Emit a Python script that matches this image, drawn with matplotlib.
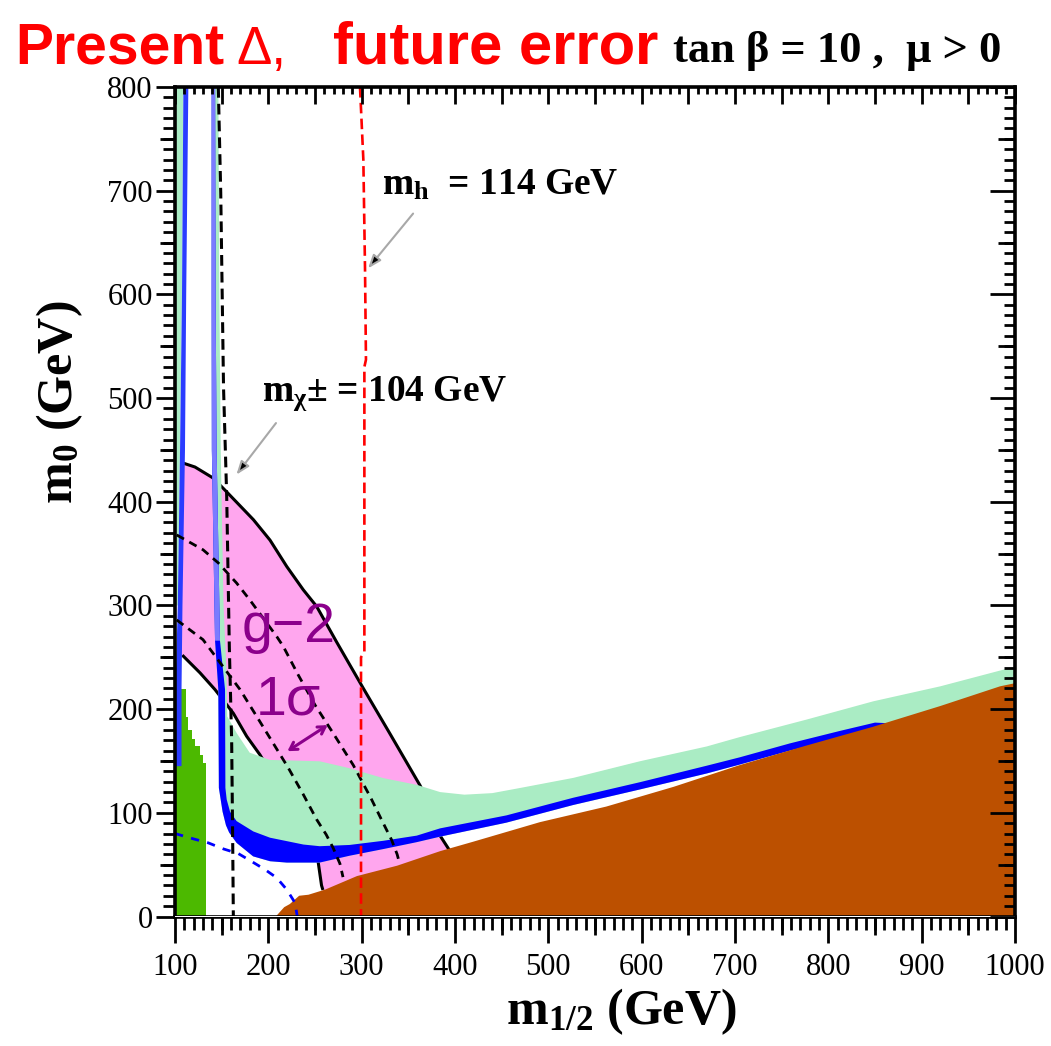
import numpy as np
import matplotlib
matplotlib.use("Agg")
import matplotlib.pyplot as plt
from matplotlib.ticker import MultipleLocator, FixedLocator, NullFormatter

plt.rcParams['font.family'] = ['Liberation Serif', 'DejaVu Serif']
plt.rcParams['mathtext.fontset'] = 'custom'
plt.rcParams['mathtext.rm'] = 'Liberation Serif:bold'
plt.rcParams['mathtext.it'] = 'Liberation Serif:bold'
plt.rcParams['mathtext.bf'] = 'Liberation Serif:bold'

# ---------------- data (GeV) ----------------
x_ticks = [100, 200, 300, 400, 500, 600, 700, 800, 900, 1000]
y_ticks = [0, 100, 200, 300, 400, 500, 600, 700, 800]
x_mid_ticks = [150, 250, 350, 450, 550, 650, 750, 850, 950]
y_mid_ticks = [50, 150, 250, 350, 450, 550, 650, 750]

# charged-LSP excluded region (brown), upper boundary
stau_x = [208, 217, 223, 233, 243, 261, 295, 338, 384, 419, 491, 562, 634, 705, 777, 848, 920, 984, 1000]
stau_y = [0, 9, 12, 20, 21, 26, 39, 49, 63, 72, 91, 106, 125, 146, 165, 183, 203, 222, 225]

# b -> s gamma excluded region (green), stepped top
bsg_x = [100, 100, 111.8, 111.8, 114.3, 114.3, 117.9, 117.9, 121.5, 121.5, 126.8, 126.8, 130.4, 130.4, 133.2, 133.2]
bsg_y = [0, 219, 219, 192, 192, 180, 180, 171, 171, 164, 164, 156, 156, 148, 148, 0]

# g-2 band (pink): upper and lower solid boundaries
gm2_hi_x = [109.7, 121.4, 141, 157, 184, 201.8, 219.7, 237.5, 251.8, 273, 301.8, 330.5, 362.8, 375, 384, 394]
gm2_hi_y = [437, 433.5, 422.8, 408, 382.7, 363, 337.6, 315, 299, 265, 220, 176, 126, 100, 78, 64]
gm2_lo_x = [109, 126.8, 142.9, 162.5, 176.8, 191, 210, 230, 245, 253, 257, 258]
gm2_lo_y = [251, 235, 218.8, 196, 173.8, 156, 128, 100, 75, 55, 30, 27]

# g-2 dashed contours
gm2_da_x = [101.8, 130, 146.4, 166, 180, 209, 216, 232, 250, 270, 291, 310, 322, 332, 338, 341]
gm2_da_y = [368, 353.7, 341, 321.6, 305.5, 270, 260.5, 233, 204, 176, 146, 114, 92, 74, 60, 50]
gm2_db_x = [101.8, 130, 169.6, 187.5, 205, 221.4, 237.5, 251.8, 262, 269.5, 276.7, 280]
gm2_db_y = [286, 267, 219, 193, 167.4, 143.3, 117.6, 93.5, 79, 66, 51, 38]

# cosmological region (light green): upper boundary
cdm_top_x = [146.5, 147.5, 149, 152, 155, 156, 166, 180, 201.8, 255, 287, 323, 359, 384, 410, 440, 470,
             526.8, 598, 669.7, 705, 777, 848, 920, 1000]
cdm_top_y = [800, 600, 450, 300, 240, 193, 177, 158, 151, 149.7, 143, 133.5, 127, 120, 117.5, 119, 124,
             133.7, 149.7, 164, 173, 190, 207.5, 222, 241]
cdm_left_x = [100, 109, 107.5, 105.4, 103, 100]
cdm_left_y = [800, 800, 600, 450, 300, 300]

# WMAP strip (blue): lower/outer and upper/inner edges
wmap_lo_x = [139.3, 139.3, 139.5, 142.9, 146.4, 147, 151, 154.6, 158, 166, 183.7, 201.8, 219.7, 255, 287,
             323, 359, 384, 455, 526.5, 598, 670, 705, 759, 812.5, 850, 862]
wmap_lo_y = [800, 600, 450, 266, 219, 124, 101, 88, 81, 71, 58, 53.3, 52, 52, 58.6,
             65, 71.7, 77, 90.5, 107.5, 122.5, 138, 146.5, 160, 172, 181, 184]
wmap_hi_x = [143, 143.5, 144.6, 148.2, 153.6, 154, 155.4, 159, 166, 184, 201.8, 237.6, 255, 287,
             323, 359, 384, 455, 526.5, 598, 670, 705, 759, 812.5, 850, 862]
wmap_hi_y = [800, 600, 450, 266, 219, 124, 112.8, 101, 92, 82, 76, 69.4, 67.8, 69,
             73, 78, 85, 97.5, 114.5, 129.5, 145.5, 153.5, 167, 179, 187, 186.5]
wmap_left_x = [109, 107.5, 105.4, 103, 100.5, 100.5, 107, 107, 108, 110.7, 112, 114.3]
wmap_left_y = [800, 600, 450, 300, 220, 145, 145, 220, 300, 450, 600, 800]

# chargino (black dashed), Higgs (red dashed), LEP selectron (blue dashed)
chi_x = [146.4, 149, 152, 155.4, 158.2, 160.7, 161.8, 162.5]
chi_y = [800, 698, 510, 405, 260, 170, 74, 0]
mh_x = [298.2, 301.8, 303.6, 304.6, 302.9, 302.9, 299.3, 299.3]
mh_y = [800, 730, 624, 537, 530, 255, 250, 0]
sel_x = [100, 119.6, 135.7, 151.8, 167.8, 180.4, 196.4, 209, 219.7, 228.6, 231]
sel_y = [80, 74.9, 71, 65.2, 60.7, 54, 45.3, 37.3, 26, 13.2, 0]

# ---------------- colours ----------------
C_PINK = '#FFA6EE'
C_MINT = '#AAECC4'
C_BLUE = '#0000FF'
C_LBLUE = '#7B7BFF'
C_BROWN = '#BC5000'
C_LIME = '#4CB900'
C_PURPLE = '#8B008B'

fig = plt.figure(figsize=(10.51, 10.46), dpi=100)
ax = fig.add_axes([175 / 1051, 129.5 / 1046, 840 / 1051, 829.5 / 1046])
ax.set_xlim(100, 1000)
ax.set_ylim(0, 800)

# pink g-2 region
px = [105] + gm2_hi_x + [394, 258] + gm2_lo_x[::-1] + [105]
py = [437] + gm2_hi_y + [40, 10] + gm2_lo_y[::-1] + [252]
ax.fill(px, py, color=C_PINK, lw=0, zorder=1.0)
ax.plot(gm2_hi_x, gm2_hi_y, color='black', lw=2.2, zorder=1.1)
ax.plot(gm2_lo_x, gm2_lo_y, color='black', lw=2.2, zorder=1.1)

# light green cosmological region
mx = cdm_top_x + [1000, 880] + wmap_lo_x[::-1]
my = cdm_top_y + [215, 186] + wmap_lo_y[::-1]
ax.fill(mx, my, color=C_MINT, lw=0, zorder=1.2)
ax.fill(cdm_left_x, cdm_left_y, color=C_MINT, lw=0, zorder=1.2)

# b->s gamma green
ax.fill(bsg_x, bsg_y, color=C_LIME, lw=0, zorder=1.3)

# blue WMAP strips
ax.fill(wmap_lo_x + wmap_hi_x[::-1], wmap_lo_y + wmap_hi_y[::-1], color=C_BLUE, lw=0, zorder=1.4)
ax.fill(wmap_lo_x[:4] + wmap_hi_x[:4][::-1], wmap_lo_y[:4] + wmap_hi_y[:4][::-1], color=C_LBLUE, lw=0, zorder=1.41)
ax.fill(wmap_left_x, wmap_left_y, color='#2A3CFF', lw=0, zorder=1.4)

# brown charged LSP
ax.fill(stau_x + [1000], stau_y + [0], color=C_BROWN, lw=0, zorder=1.5)

# dashed contours
ax.plot(gm2_da_x, gm2_da_y, color='black', lw=2.0, dashes=(3, 2.2), zorder=1.8)
ax.plot(gm2_db_x, gm2_db_y, color='black', lw=2.0, dashes=(3, 2.2), zorder=1.8)
ax.plot(chi_x, chi_y, color='black', lw=2.2, dashes=(3.5, 2), zorder=1.8)
ax.plot(mh_x, mh_y, color='red', lw=1.9, dashes=(4, 2), zorder=1.8)
ax.plot(sel_x, sel_y, color=C_BLUE, lw=2.0, dashes=(3, 3), zorder=1.8)

# annotations
ax.text(171, 265, 'g\u22122', color=C_PURPLE, fontsize=40, family='Liberation Sans', zorder=3)
ax.text(186, 195, '1\u03c3', color=C_PURPLE, fontsize=40, family='Liberation Sans', zorder=3)
ax.annotate('', xy=(218, 158), xytext=(266, 186),
            arrowprops=dict(arrowstyle='<->,head_length=0.5,head_width=0.3', color=C_PURPLE, lw=2.2),
            zorder=3)

ax.text(322, 696, r'$\mathrm{m_h}$  = 114 GeV', fontsize=27, fontweight='bold', zorder=3)
ax.annotate('', xy=(305, 623), xytext=(357, 680),
            arrowprops=dict(arrowstyle='-|>,head_length=0.8,head_width=0.3', fc='black', ec='#a8a8a8', lw=1.5),
            zorder=3)
ax.text(193, 498, r'$\mathrm{m_{\chi}}$' + '\u00b1 = 104 GeV', fontsize=27, fontweight='bold', zorder=3)
ax.annotate('', xy=(164, 424), xytext=(210, 478),
            arrowprops=dict(arrowstyle='-|>,head_length=0.8,head_width=0.3', fc='black', ec='#a8a8a8', lw=1.5),
            zorder=3)

# ---------------- axes / ticks ----------------
for s in ax.spines.values():
    s.set_linewidth(2.6)
    s.set_zorder(2.6)

ax.xaxis.set_major_locator(FixedLocator(x_ticks))
ax.xaxis.set_minor_locator(MultipleLocator(10))
ax.yaxis.set_major_locator(FixedLocator(y_ticks))
ax.yaxis.set_minor_locator(MultipleLocator(10))
ax.set_xticklabels([str(v) for v in x_ticks])
ax.set_yticklabels([str(v) for v in y_ticks])
ax.tick_params(axis='x', which='major', direction='out', length=19, width=2, labelsize=22, pad=7,
               top=False, bottom=True)
ax.tick_params(axis='x', which='minor', direction='out', length=9, width=2, top=False, bottom=True)
ax.tick_params(axis='y', which='major', direction='out', length=14, width=2, labelsize=22, pad=2,
               right=False, left=True)
ax.tick_params(axis='y', which='minor', direction='out', length=9, width=2, right=False, left=True)

def sec_x(loc, ticks, length, direction, minor=None, minor_len=0):
    s = ax.secondary_xaxis(loc)
    s.xaxis.set_major_locator(FixedLocator(ticks))
    s.xaxis.set_major_formatter(NullFormatter())
    if minor is not None:
        s.xaxis.set_minor_locator(MultipleLocator(minor))
        s.tick_params(which='minor', direction=direction, length=minor_len, width=2)
    s.tick_params(which='major', direction=direction, length=length, width=2)
    for sp in s.spines.values():
        sp.set_visible(False)
    s.set_zorder(5)
    return s

def sec_y(loc, ticks, length, direction, minor=None, minor_len=0):
    s = ax.secondary_yaxis(loc)
    s.yaxis.set_major_locator(FixedLocator(ticks))
    s.yaxis.set_major_formatter(NullFormatter())
    if minor is not None:
        s.yaxis.set_minor_locator(MultipleLocator(minor))
        s.tick_params(which='minor', direction=direction, length=minor_len, width=2)
    s.tick_params(which='major', direction=direction, length=length, width=2)
    for sp in s.spines.values():
        sp.set_visible(False)
    s.set_zorder(5)
    return s

sec_x('bottom', x_mid_ticks, 13, 'out')
sec_x('top', x_ticks + x_mid_ticks, 12, 'in', minor=10, minor_len=5)
sec_y('left', y_mid_ticks, 11, 'out')
sec_y('right', y_ticks, 18, 'in', minor=10, minor_len=8)
sec_y('right', y_mid_ticks, 12, 'in')

# axis labels
fig.text(621 / 1051, 1 - 1012 / 1046, r'$\mathrm{m_{1/2}}$ (GeV)', ha='center', va='center',
         fontsize=36, fontweight='bold')
fig.text(60 / 1051, 1 - 402 / 1046, r'$\mathrm{m_0}$ (GeV)', ha='center', va='center',
         fontsize=36, fontweight='bold', rotation=90)

# header
fig.text(15 / 1051, 1 - 64 / 1046, 'Present', color='red', fontsize=41, fontweight='bold',
         family='Liberation Sans', ha='left', va='baseline')
fig.text(236 / 1051, 1 - 64 / 1046, '\u0394,', color='red', fontsize=38,
         family='Liberation Sans', ha='left', va='baseline')
fig.text(333 / 1051, 1 - 64 / 1046, 'future error', color='red', fontsize=43, fontweight='bold',
         family='Liberation Sans', ha='left', va='baseline')
fig.text(673 / 1051, 1 - 62 / 1046, 'tan \u03b2 = 10 ,  \u03bc > 0', color='black', fontsize=32,
         fontweight='bold', ha='left', va='baseline')

fig.savefig('out.png', dpi=100)
